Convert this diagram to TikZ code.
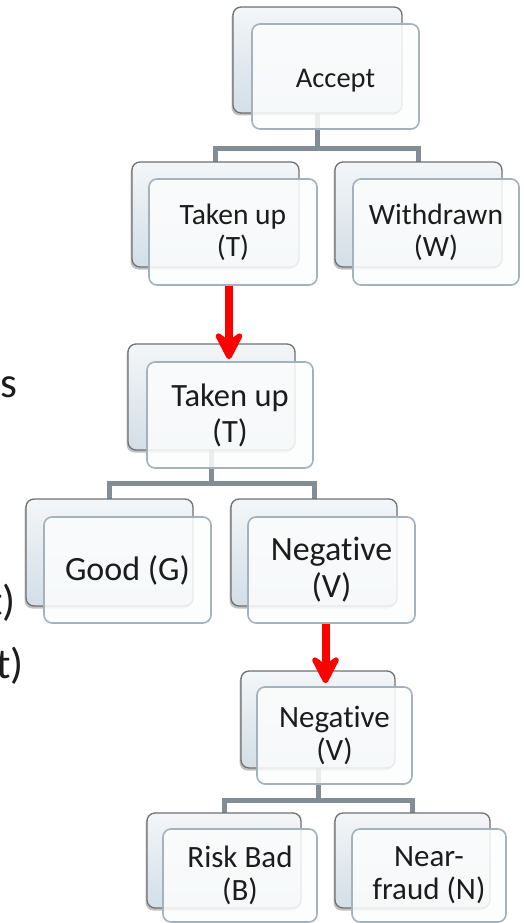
\documentclass[tikz,border=0pt]{standalone}
\usepackage{fontspec}
\setmainfont{Carlito}[Ligatures=NoCommon]
\usetikzlibrary{arrows.meta,shadows,calc}

\definecolor{backline}{HTML}{707070}
\definecolor{backtop}{HTML}{F3F6F8}
\definecolor{backbot}{HTML}{D3DEE6}
\definecolor{frontline}{HTML}{A3B2BB}
\definecolor{frontfill}{HTML}{FCFDFD}
\definecolor{connline}{HTML}{838D94}
\definecolor{txt}{HTML}{1C1C1C}

\tikzset{
  backslot/.style={inner sep=0pt},
  backbox/.style={draw=backline, line width=1.3pt, rounded corners=8pt,
    top color=backtop, bottom color=backbot, inner sep=0pt,
    drop shadow={shadow xshift=-1.5pt, shadow yshift=-2.5pt, opacity=0.35, fill=black!70}},
  frontbox/.style={draw=frontline, line width=1.6pt, rounded corners=8pt,
    fill=frontfill, fill opacity=0.86, text opacity=1, text=txt,
    align=center, inner sep=0pt},
  conn/.style={draw=connline, line width=5pt},
  redarrow/.style={draw=red, line width=8pt,
    -{Stealth[length=35pt, width=36pt, inset=13pt, round]}},
  fragment/.style={text=txt, inner sep=0pt, font=\fontsize{43}{50}\selectfont},
  fA/.style={font=\fontsize{28.5}{32}\selectfont},
  fB/.style={font=\fontsize{29.5}{32}\selectfont},
  fC/.style={font=\fontsize{32.5}{36}\selectfont},
  fD/.style={font=\fontsize{34}{37}\selectfont},
  fE/.style={font=\fontsize{31}{33}\selectfont},
}

\begin{document}
\begin{tikzpicture}[x=1pt, y=-1pt]
\useasboundingbox (0,0) rectangle (524,923);

% partly hidden words at the left edge
\node[fragment, anchor=base east] (fragS) at (18,397) {s};
\node[fragment, anchor=base east] (fragT1) at (16,615) {t)};
\node[fragment, anchor=base east] (fragT2) at (24,678) {t)};

% heights of the horizontal bars
\coordinate (bar1) at (0,148);
\coordinate (bar2) at (0,483);
\coordinate (bar3) at (0,800);

% places of the back cards (named, not drawn yet)
\path
  (317.5,60)  node[backslot, minimum width=169pt, minimum height=106pt] (accB) {}
  (215.5,214.5) node[backslot, minimum width=167pt, minimum height=105pt] (tuB) {}
  (418.5,214.5) node[backslot, minimum width=167pt, minimum height=105pt] (wdB) {}
  (211.5,397) node[backslot, minimum width=167pt, minimum height=106pt] (tu2B) {}
  (109.5,552.5) node[backslot, minimum width=167pt, minimum height=107pt] (gdB) {}
  (314,552.5) node[backslot, minimum width=166pt, minimum height=107pt] (ngB) {}
  (318,719.5) node[backslot, minimum width=154pt, minimum height=97pt] (ng2B) {}
  (224,860.5) node[backslot, minimum width=154pt, minimum height=95pt] (rbB) {}
  (412.5,860.5) node[backslot, minimum width=155pt, minimum height=95pt] (nfB) {};

% tree connectors, behind the cards
\draw[conn] (accB.south) -- (accB.south |- bar1) -| (tuB.north);
\draw[conn] (accB.south) -- (accB.south |- bar1) -| (wdB.north);
\draw[conn] (tu2B.south) -- (tu2B.south |- bar2) -| (gdB.north);
\draw[conn] (tu2B.south) -- (tu2B.south |- bar2) -| (ngB.north);
\draw[conn] (ng2B.south) -- (ng2B.south |- bar3) -| (rbB.north);
\draw[conn] (ng2B.south) -- (ng2B.south |- bar3) -| (nfB.north);

% back cards drawn over the connectors
\foreach \n/\cx/\cy/\w/\h in {accB/317.5/60/169/106, tuB/215.5/214.5/167/105,
    wdB/418.5/214.5/167/105, tu2B/211.5/397/167/106, gdB/109.5/552.5/167/107,
    ngB/314/552.5/166/107, ng2B/318/719.5/154/97, rbB/224/860.5/154/95,
    nfB/412.5/860.5/155/95}
  \node[backbox, minimum width=\w pt, minimum height=\h pt] at (\cx,\cy) {};

% front cards with the labels
\node[frontbox, fA, minimum width=167pt, minimum height=105pt, text height=27pt, text depth=5pt] (accF) at (335.5,76.5) {Accept};
\node[frontbox, fB, minimum width=168pt, minimum height=106pt] (tuF) at (233,232) {Taken up\\(T)};
\node[frontbox, fB, minimum width=166pt, minimum height=106pt] (wdF) at (436,232) {Withdrawn\\(W)};
\node[frontbox, fC, minimum width=166pt, minimum height=106pt] (tu2F) at (230,415) {Taken up\\(T)};
\node[frontbox, fD, minimum width=167pt, minimum height=106pt] (gdF) at (127.5,570) {Good (G)};
\node[frontbox, fD, minimum width=167pt, minimum height=106pt] (ngF) at (331.5,570) {Negative\\(V)};
\node[frontbox, fE, minimum width=155pt, minimum height=97pt] (ng2F) at (334.5,735.5) {Negative\\(V)};
\node[frontbox, fE, minimum width=154pt, minimum height=93pt] (rbF) at (240,875.5) {Risk Bad\\(B)};
\node[frontbox, fE, minimum width=154pt, minimum height=93pt] (nfF) at (429,875.5) {Near-\\fraud (N)};

% red arrows between the stages
\coordinate (a1end) at ([xshift=-1pt]tu2F.north);
\draw[redarrow] (a1end |- tuF.south) -- ([yshift=2pt]a1end);
\coordinate (a2end) at ([xshift=-9pt]ng2F.north);
\draw[redarrow] (a2end |- ngF.south) -- ([yshift=3pt]a2end);
\end{tikzpicture}
\end{document}
